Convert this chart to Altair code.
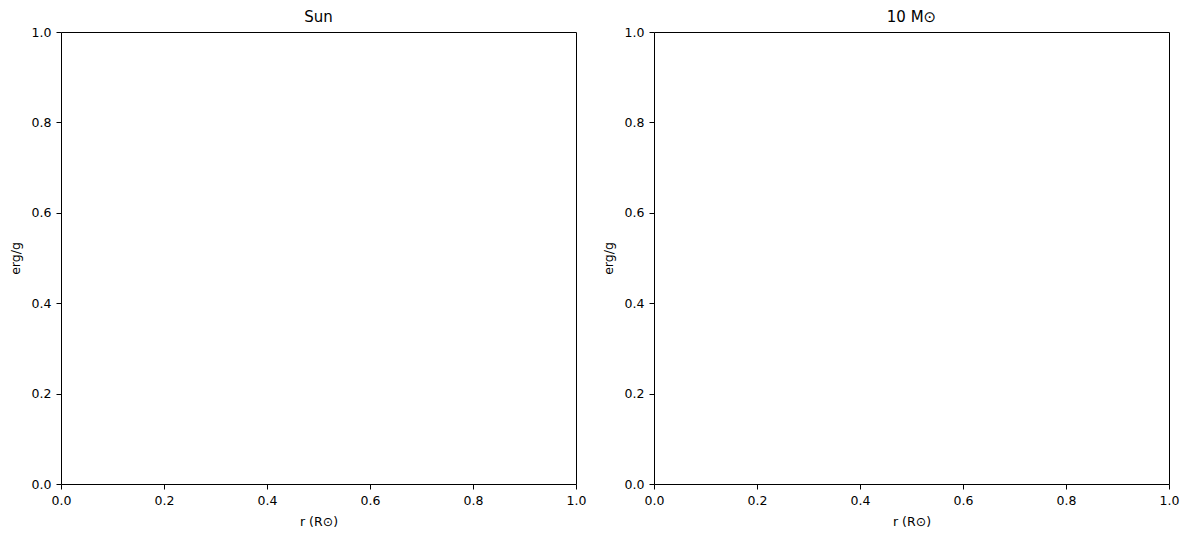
import altair as alt
import pandas as pd

panel_titles = ["Sun", "10 M\u2299"]
x_title = "r (R\u2299)"
y_title = "erg/g"
x_domain = [0.0, 1.0]
y_domain = [0.0, 1.0]
tick_values = [0.0, 0.2, 0.4, 0.6, 0.8, 1.0]

df = pd.DataFrame({"x": x_domain, "y": y_domain})


def panel(title):
    return (
        alt.Chart(df, title=alt.Title(title, fontSize=15, fontWeight="normal", offset=1))
        .mark_point(opacity=0)
        .encode(
            x=alt.X("x:Q", scale=alt.Scale(domain=x_domain, nice=False, zero=False),
                    axis=alt.Axis(values=tick_values, format=".1f", title=x_title)),
            y=alt.Y("y:Q", scale=alt.Scale(domain=y_domain, nice=False, zero=False),
                    axis=alt.Axis(values=tick_values, format=".1f", title=y_title)),
        )
        .properties(width=515, height=452)
    )


chart = (
    alt.hconcat(panel(panel_titles[0]), panel(panel_titles[1]), spacing=78, bounds="flush")
    .properties(padding={"left": 0, "top": 1, "right": 0, "bottom": 0})
    .configure_view(stroke="black", strokeWidth=1)
    .configure_axis(
        domain=False, grid=False,
        tickColor="black", tickSize=5, tickWidth=1,
        labelColor="black", labelFont="DejaVu Sans", labelFontSize=12.5, labelPadding=5,
        labelFlush=False, labelOverlap=False,
        titleColor="black", titleFont="DejaVu Sans", titleFontSize=12.5,
        titleFontWeight="normal", titlePadding=9,
    )
    .configure_title(font="DejaVu Sans", color="black", anchor="middle")
)

chart.save("out.html", embed_options={"renderer": "svg", "actions": False})
